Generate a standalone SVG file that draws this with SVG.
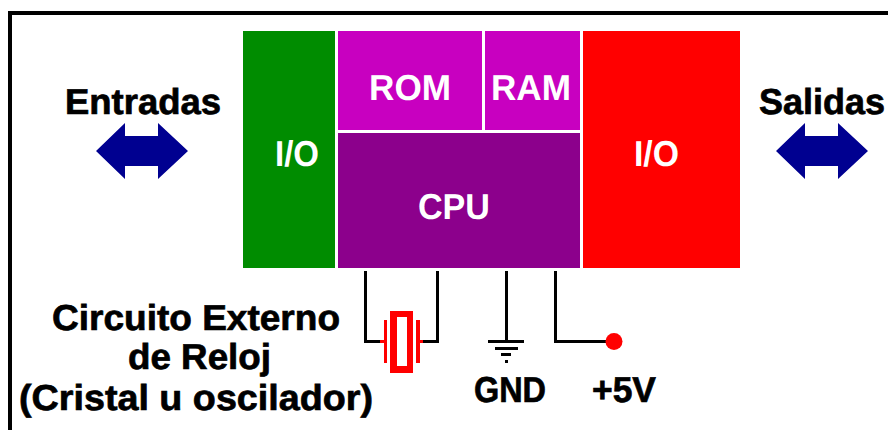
<svg xmlns="http://www.w3.org/2000/svg" width="888" height="430" viewBox="0 0 888 430">
<style>
text{font-family:"Liberation Sans",Arial,sans-serif;font-weight:700;font-size:36px;text-rendering:geometricPrecision}
.k{fill:#000;stroke:#000;stroke-width:.7}
.w{fill:#fff}
.line{fill:none;stroke:#000;stroke-width:3}
.arrow{fill:#000090}
.red{fill:#f00}
</style>
<defs><polygon id="dbl" points="96,151 125,123 125,136 158,136 158,123 188,151 158,179 158,166 125,166 125,179"/></defs>
<rect width="888" height="430" fill="#fff"/>
<path d="M10 430V13H888" fill="none" stroke="#000" stroke-width="4"/>
<g id="io-left"><rect x="243" y="31" width="92" height="237" fill="#008c00"/><text class="w" x="275" y="166" textLength="44" lengthAdjust="spacingAndGlyphs">I/O</text></g>
<g id="rom"><rect x="338" y="31" width="144" height="99" fill="#c800c0"/><text class="w" x="369" y="100" textLength="82" lengthAdjust="spacingAndGlyphs">ROM</text></g>
<g id="ram"><rect x="485" y="31" width="95" height="99" fill="#c800c0"/><text class="w" x="491" y="100" textLength="80" lengthAdjust="spacingAndGlyphs">RAM</text></g>
<g id="cpu"><rect x="338" y="133" width="242" height="135" fill="#8c008c"/><text class="w" x="418" y="219" textLength="72" lengthAdjust="spacingAndGlyphs">CPU</text></g>
<g id="io-right"><rect x="583" y="31" width="157" height="237" fill="#f00"/><text class="w" x="634" y="166" textLength="45" lengthAdjust="spacingAndGlyphs">I/O</text></g>
<g id="entradas"><text class="k" x="65" y="114" textLength="156" lengthAdjust="spacingAndGlyphs">Entradas</text><use href="#dbl" class="arrow"/></g>
<g id="salidas"><text class="k" x="759" y="114" textLength="126" lengthAdjust="spacingAndGlyphs">Salidas</text><use href="#dbl" class="arrow" x="680"/></g>
<g id="connectors">
<path class="line" d="M365.500 271V341.500H381M437.500 271V341.500H422"/>
<path class="line" d="M506.500 271V341.500"/>
<path class="line" d="M555.500 271V341.500H608"/>
</g>
<g id="crystal">
<path class="red" fill-rule="evenodd" d="M390 311H413V373H390ZM397 317V366H407V317Z"/>
<rect x="384" y="320" width="3" height="43" class="red"/><rect x="416" y="320" width="4" height="43" class="red"/>
<rect x="380" y="340" width="4" height="3" class="red"/><rect x="420" y="340" width="3" height="3" class="red"/>
</g>
<g id="gnd"><rect x="488" y="340" width="36" height="3"/><rect x="495" y="347" width="23" height="3"/><rect x="501" y="353" width="10" height="3"/><rect x="505" y="360" width="3" height="3"/><text class="k" x="474" y="402" textLength="72" lengthAdjust="spacingAndGlyphs">GND</text></g>
<g id="vcc"><circle cx="614" cy="341.500" r="8.500" class="red"/><text class="k" x="592" y="402" textLength="64" lengthAdjust="spacingAndGlyphs">+5V</text></g>
<g id="clock"><text class="k" x="52" y="330" textLength="288" lengthAdjust="spacingAndGlyphs">Circuito Externo</text><text class="k" x="128" y="369" textLength="143" lengthAdjust="spacingAndGlyphs">de Reloj</text><text class="k" x="19" y="410" textLength="354" lengthAdjust="spacingAndGlyphs">(Cristal u oscilador)</text></g>
</svg>
